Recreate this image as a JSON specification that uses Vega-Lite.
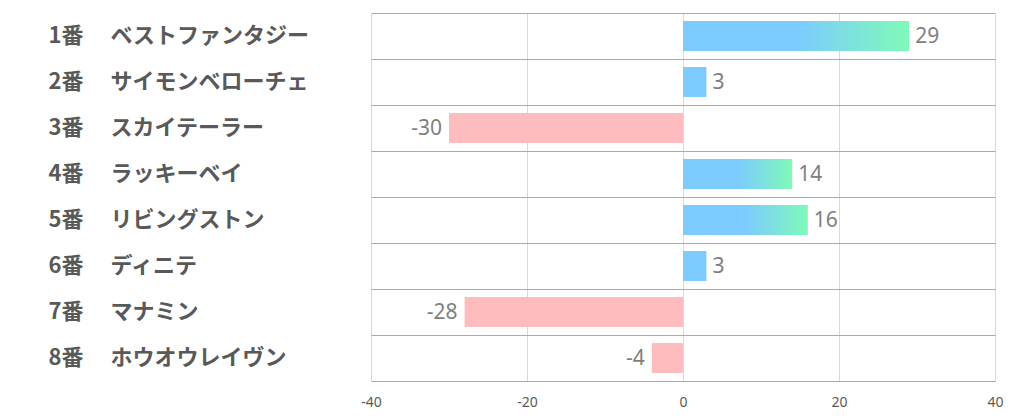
{
  "$schema": "https://vega.github.io/schema/vega-lite/v6.json",
  "width": 624,
  "height": 368,
  "autosize": "none",
  "padding": {"left": 371, "top": 13, "right": 27, "bottom": 36},
  "background": "white",
  "config": {"view": {"stroke": null}},
  "data": {
    "values": [
      {"label": "1番　 ベストファンタジー", "v": 29},
      {"label": "2番　 サイモンベローチェ", "v": 3},
      {"label": "3番　 スカイテーラー", "v": -30},
      {"label": "4番　 ラッキーベイ", "v": 14},
      {"label": "5番　 リビングストン", "v": 16},
      {"label": "6番　 ディニテ", "v": 3},
      {"label": "7番　 マナミン", "v": -28},
      {"label": "8番　 ホウオウレイヴン", "v": -4}
    ]
  },
  "resolve": {"axis": {"y": "independent"}},
  "layer": [
    {
      "mark": {"type": "bar", "height": {"band": 0.65}},
      "encoding": {
        "y": {
          "field": "label", "type": "nominal", "sort": null,
          "scale": {"paddingInner": 0, "paddingOuter": 0},
          "axis": {
            "orient": "left", "title": null, "ticks": false, "domain": false, "grid": false,
            "labelAlign": "left", "labelPadding": 323, "labelFontSize": 22, "labelFontWeight": "bold",
            "labelColor": "#595959", "labelFont": "Noto Sans CJK JP", "labelLimit": 400
          }
        },
        "x": {
          "field": "v", "type": "quantitative",
          "scale": {"domain": [-40, 40]},
          "axis": {
            "title": null, "values": [-40, -20, 0, 20, 40], "ticks": false,
            "grid": true, "gridColor": "#d9d9d9", "gridWidth": 1,
            "domainColor": "#aaaaaa", "domainWidth": 1, "labelFlush": false,
            "labelExpr": "'' + datum.value",
            "labelFontSize": 14, "labelColor": "#595959", "labelFont": "Noto Sans", "labelPadding": 14
          }
        },
        "color": {
          "condition": [
            {"test": "datum.v >= 10", "value": {"gradient": "linear", "x1": 0, "x2": 1, "y1": 0, "y2": 0,
              "stops": [{"offset": 0, "color": "#7ccbff"}, {"offset": 0.5, "color": "#7ccbff"}, {"offset": 1, "color": "#7ffab8"}]}},
            {"test": "datum.v < 0", "value": "#ffbcbf"}
          ],
          "value": "#7ccbff"
        }
      }
    },
    {
      "transform": [{"filter": "datum.v >= 0"}],
      "mark": {"type": "text", "align": "left", "baseline": "middle", "dx": 6, "dy": 1, "fontSize": 21, "color": "#7f7f7f", "font": "Noto Sans"},
      "encoding": {
        "y": {
          "field": "label", "type": "nominal", "sort": null,
          "axis": {"orient": "right", "title": null, "labels": false, "ticks": false, "domain": false,
            "grid": true, "bandPosition": 0, "gridColor": "#aaaaaa", "gridWidth": 1}
        },
        "x": {"field": "v", "type": "quantitative"},
        "text": {"field": "v", "type": "nominal"}
      }
    },
    {
      "transform": [{"filter": "datum.v < 0"}],
      "mark": {"type": "text", "align": "right", "baseline": "middle", "dx": -7, "dy": 1, "fontSize": 21, "color": "#7f7f7f", "font": "Noto Sans"},
      "encoding": {
        "y": {"field": "label", "type": "nominal", "sort": null, "axis": null},
        "x": {"field": "v", "type": "quantitative"},
        "text": {"field": "v", "type": "nominal"}
      }
    }
  ]
}
